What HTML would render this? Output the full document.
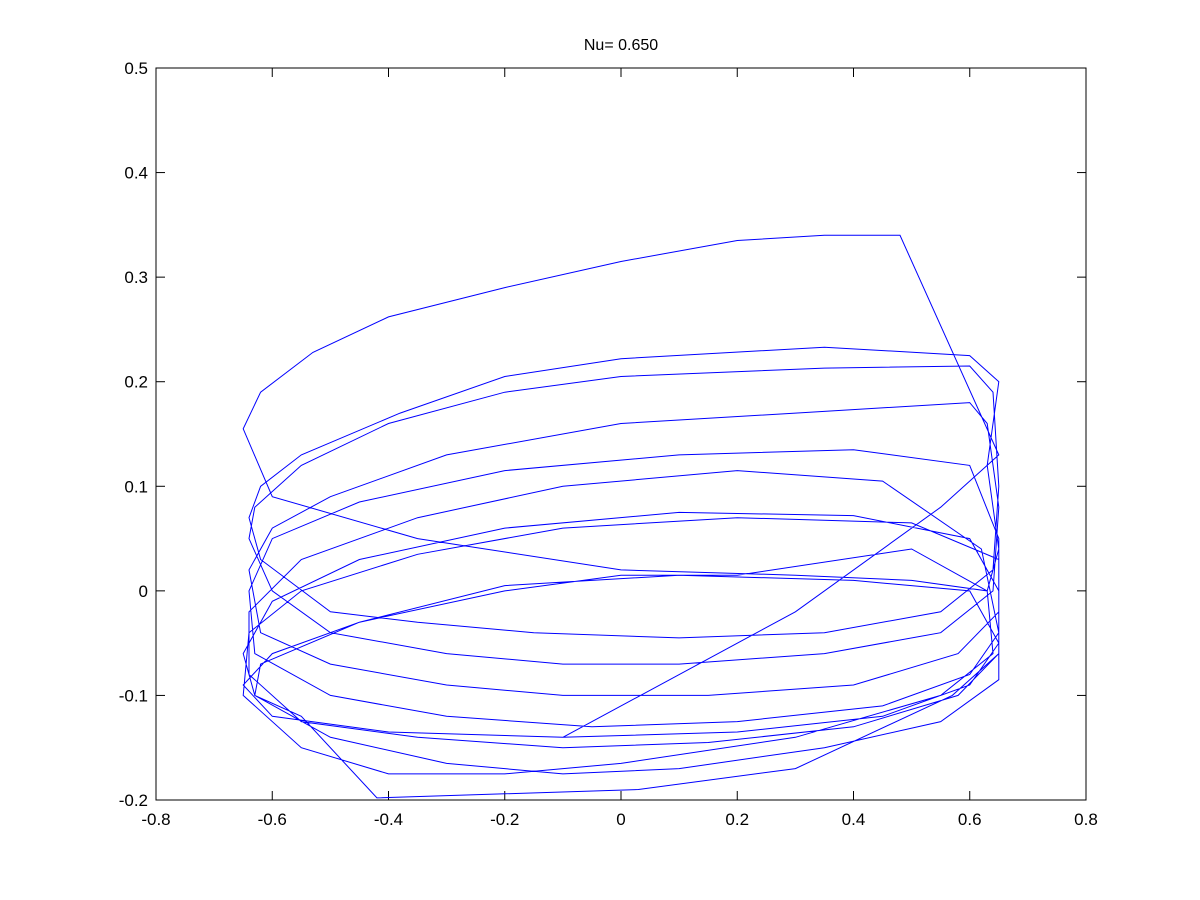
<!DOCTYPE html>
<html><head><meta charset="utf-8"><style>
body{margin:0;background:#fff;}
svg{display:block;font-family:"Liberation Sans",sans-serif;}
</style></head><body>
<svg id="chart" width="1200" height="900">
<rect width="1200" height="900" fill="#fff"/>
<text x="621" y="50" font-size="16" text-anchor="middle">Nu= 0.650</text>
<g id="axes"></g>
<rect x="156" y="68" width="930" height="732" fill="none" stroke="#000" stroke-width="1"/>
<polyline id="traj" fill="none" stroke="#0000ff" stroke-width="1"/>
</svg>
<script>
const xTicks=[-0.8,-0.6,-0.4,-0.2,0,0.2,0.4,0.6,0.8];
const xTickLabels=["-0.8","-0.6","-0.4","-0.2","0","0.2","0.4","0.6","0.8"];
const yTicks=[-0.2,-0.1,0,0.1,0.2,0.3,0.4,0.5];
const yTickLabels=["-0.2","-0.1","0","0.1","0.2","0.3","0.4","0.5"];
const trajX=[-0.1,0.3,0.55,0.65,0.48,0.35,0.2,0,-0.2,-0.4,-0.53,-0.62,-0.65,-0.6,-0.35,0,0.3,0.5,0.63,0.65,0.63,0.65,
0.6,0.35,0,-0.2,-0.38,-0.55,-0.62,-0.64,-0.62,-0.5,-0.35,-0.15,0.1,0.35,0.55,0.64,0.65,0.64,
0.6,0.35,0,-0.2,-0.4,-0.55,-0.63,-0.64,-0.6,-0.5,-0.3,-0.1,0.1,0.35,0.55,0.64,0.65,0.63,
0.6,0.3,0,-0.3,-0.5,-0.6,-0.64,-0.62,-0.5,-0.3,-0.1,0.15,0.4,0.58,0.65,0.65,0.6,
0.4,0.1,-0.2,-0.45,-0.6,-0.64,-0.63,-0.5,-0.3,-0.05,0.2,0.45,0.6,0.65,0.62,
0.45,0.2,-0.1,-0.35,-0.55,-0.64,-0.64,-0.55,-0.35,-0.1,0.15,0.4,0.58,0.65,0.65,0.6,
0.4,0.1,-0.2,-0.45,-0.6,-0.65,-0.63,-0.5,-0.3,-0.1,0.1,0.35,0.55,0.65,0.65,
0.5,0.2,-0.1,-0.35,-0.55,-0.64,-0.65,-0.55,-0.4,-0.2,0,0.3,0.55,0.64,0.63,
0.5,0.2,0,-0.2,-0.45,-0.6,-0.65,-0.6,-0.4,-0.1,0.2,0.45,0.6,0.65,0.6,0.4,
0.1,-0.2,-0.45,-0.62,-0.63,-0.55,-0.42,0.03,0.3,0.57,0.65];
const trajY=[-0.14,-0.02,0.08,0.13,0.34,0.34,0.335,0.315,0.29,0.262,0.228,0.19,0.155,0.09,0.05,0.02,0.015,0.01,0.0,0.04,0.12,0.2,
0.225,0.233,0.222,0.205,0.17,0.13,0.1,0.07,0.03,-0.02,-0.03,-0.04,-0.045,-0.04,-0.02,0.02,0.1,0.19,
0.215,0.213,0.205,0.19,0.16,0.12,0.08,0.05,0.0,-0.04,-0.06,-0.07,-0.07,-0.06,-0.04,0.0,0.08,0.16,
0.18,0.17,0.16,0.13,0.09,0.06,0.02,-0.04,-0.07,-0.09,-0.1,-0.1,-0.09,-0.06,-0.02,0.05,0.12,
0.135,0.13,0.115,0.085,0.05,0.0,-0.06,-0.1,-0.12,-0.13,-0.125,-0.11,-0.08,-0.04,0.04,
0.105,0.115,0.1,0.07,0.03,-0.02,-0.08,-0.125,-0.14,-0.15,-0.145,-0.13,-0.1,-0.06,0.0,0.05,
0.072,0.075,0.06,0.03,-0.01,-0.06,-0.1,-0.14,-0.165,-0.175,-0.17,-0.15,-0.125,-0.085,0.03,
0.065,0.07,0.06,0.035,0.0,-0.04,-0.1,-0.15,-0.175,-0.175,-0.165,-0.14,-0.1,-0.06,0.0,
0.04,0.015,0.015,0.0,-0.03,-0.06,-0.09,-0.12,-0.135,-0.14,-0.135,-0.12,-0.09,-0.05,0.0,0.01,
0.015,0.005,-0.03,-0.07,-0.1,-0.12,-0.198,-0.19,-0.17,-0.1,-0.06];
const L=156,R=1086,T=68,B=800;
function sx(v){return L+(v+0.8)/1.6*(R-L);}
function sy(v){return B-(v+0.2)/0.7*(B-T);}
const ns="http://www.w3.org/2000/svg";
const g=document.getElementById('axes');
function mk(tag,attrs){const e=document.createElementNS(ns,tag);for(const k in attrs)e.setAttribute(k,attrs[k]);g.appendChild(e);return e;}
xTicks.forEach((v,i)=>{
 const x=sx(v);
 const t1=mk('line',{x1:x,y1:B,x2:x,y2:B-9,stroke:'#000'});
 
 
 const t2=mk('line',{x1:x,y1:T,x2:x,y2:T+9,stroke:'#000'});
 
 
 const tx=mk('text',{x:x,y:B+25,'font-size':17,'text-anchor':'middle'});
 tx.textContent=xTickLabels[i];
 
 
});
yTicks.forEach((v,i)=>{
 const y=sy(v);
 const t1=mk('line',{x1:L,y1:y,x2:L+9,y2:y,stroke:'#000'});
 
 
 const t2=mk('line',{x1:R,y1:y,x2:R-9,y2:y,stroke:'#000'});
 
 
 const tx=mk('text',{x:L-8,y:y+6,'font-size':17,'text-anchor':'end'});
 tx.textContent=yTickLabels[i];
 
 
});
const pts=trajX.map((x,i)=>sx(x).toFixed(1)+','+sy(trajY[i]).toFixed(1)).join(' ');
document.getElementById('traj').setAttribute('points',pts);
</script>
</body></html>
